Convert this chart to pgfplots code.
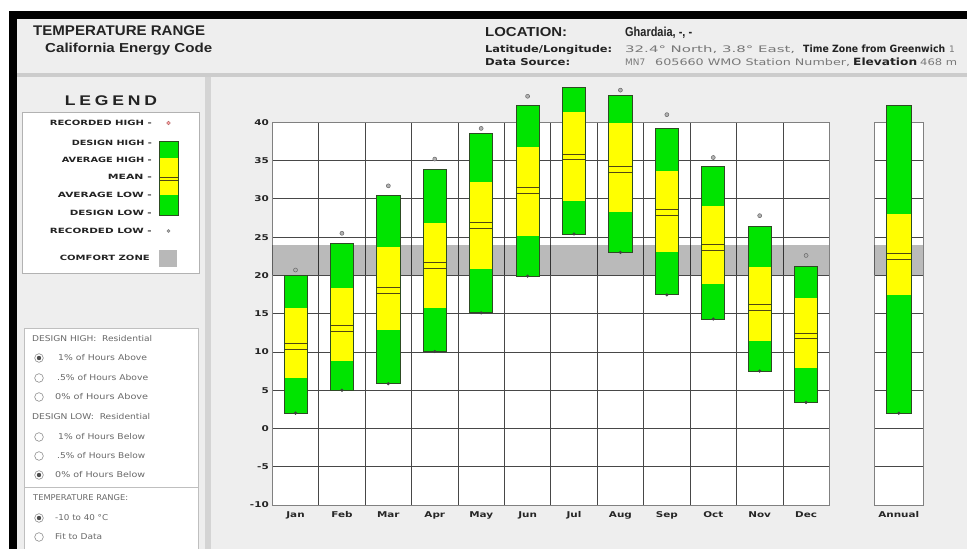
\documentclass[border=0pt]{standalone}
\usepackage{fontspec}
\setmainfont{DejaVu Sans}
\newfontfamily\arialf{Liberation Sans}
\usepackage{graphicx}
\usepackage{pgfplots}
\pgfplotsset{compat=1.18}
\definecolor{cgreen}{RGB}{0,228,0}
\definecolor{cyellow}{RGB}{255,255,0}
\definecolor{cpanel}{RGB}{238,238,238}
\definecolor{coutline}{RGB}{45,75,35}
\definecolor{cmean}{RGB}{80,70,20}
\definecolor{ctitle}{RGB}{35,35,35}
\definecolor{cgt}{RGB}{120,120,120}
\definecolor{cradio}{RGB}{105,105,105}
\newcommand\fw[2]{\resizebox{#1}{\height}{#2}}
\newcommand\fs[1]{\fontsize{#1}{#1}\selectfont}
\newcommand\hs[1]{\scalebox{1.3}[1]{#1}}
% box: x, design low, average low, mean, average high, design high
\newcommand\tbox[6]{%
 \pgfmathsetmacro\xl{#1-0.25}%
 \pgfmathsetmacro\xr{#1+0.25}%
 \pgfmathsetmacro\ma{#4+0.37}%
 \pgfmathsetmacro\mb{#4-0.37}%
 \addplot[draw=none, fill=cgreen] coordinates {(\xl,#2) (\xr,#2) (\xr,#6) (\xl,#6)} -- cycle;
 \addplot[draw=none, fill=cyellow] coordinates {(\xl,#3) (\xr,#3) (\xr,#5) (\xl,#5)} -- cycle;
 \addplot[cmean, line width=0.8pt] coordinates {(\xl,\ma) (\xr,\ma)};
 \addplot[cmean, line width=0.8pt] coordinates {(\xl,\mb) (\xr,\mb)};
 \addplot[coutline, line width=0.8pt] coordinates {(\xl,#2) (\xr,#2) (\xr,#6) (\xl,#6)} -- cycle;
}
\newcommand\rad[2]{\filldraw[fill=white, draw=black!45, line width=0.6pt] (39,#1) circle (4.3pt);
 \ifnum#2=1 \fill[black!70] (39,#1) circle (2.2pt);\fi}
\newcommand\rtext[4]{\node[anchor=west, inner sep=0, text=cradio] at (#1,#2) {\fw{#3}{\fs{8}#4}};}
\newcommand\ltext[3]{\node[anchor=east, inner sep=0, text=ctitle] at (152,#1) {\fw{#2}{\bfseries\fs{7.2}#3}};}
\begin{document}
\begin{tikzpicture}
\path[use as bounding box] (0,0) rectangle (967pt,549pt);
\begin{scope}[x=1pt,y=-1pt,shift={(0pt,549pt)}]
\fill[white] (0,0) rectangle (967,549);
\fill[black] (9,11) rectangle (967,19);
\fill[black] (9,11) rectangle (17,549);
\fill[cpanel] (17,19) rectangle (967,73);
\fill[black!20] (17,73) rectangle (967,77);
\fill[cpanel] (17,77) rectangle (205,549);
\fill[black!17] (205,77) rectangle (211,549);
\fill[cpanel] (211,77) rectangle (967,549);
\fill[white] (272.3,122.3) rectangle (829.3,505);
\fill[white] (874.3,122.3) rectangle (923.3,505);
% header
\node[anchor=base west, inner sep=0, text=ctitle] at (33,36) {\fw{172pt}{\arialf\bfseries\fs{14}TEMPERATURE RANGE}};
\node[anchor=base west, inner sep=0, text=ctitle] at (45,53) {\fw{167pt}{\arialf\bfseries\fs{13}California Energy Code}};
\node[anchor=base west, inner sep=0, text=ctitle] at (485,37) {\fw{82pt}{\arialf\bfseries\fs{13}LOCATION:}};
\node[anchor=base west, inner sep=0, text=ctitle] at (625,37) {\fw{67pt}{\arialf\bfseries\fs{13}Ghardaia, -, -}};
\node[anchor=base west, inner sep=0, text=ctitle] at (485,53) {\fw{127pt}{\bfseries\fs{9.5}Latitude/Longitude:}};
\node[anchor=base west, inner sep=0, text=cgt] at (625,53) {\fw{170pt}{\fs{9}32.4° North, 3.8° East,}};
\node[anchor=base west, inner sep=0, text=ctitle] at (803,53) {\fw{142pt}{\bfseries\fs{10}Time Zone from Greenwich}};
\node[anchor=base west, inner sep=0, text=cgt] at (949,53) {\fs{9}1};
\node[anchor=base west, inner sep=0, text=ctitle] at (485,66) {\fw{85pt}{\bfseries\fs{9.5}Data Source:}};
\node[anchor=base west, inner sep=0, text=cgt] at (625,66) {\fw{20pt}{\fs{9}MN7}};
\node[anchor=base west, inner sep=0, text=cgt] at (655,66) {\fw{195pt}{\fs{9}605660 WMO Station Number,}};
\node[anchor=base west, inner sep=0, text=ctitle] at (853,66) {\fw{64pt}{\bfseries\fs{10}Elevation}};
\node[anchor=base west, inner sep=0, text=cgt] at (920,66) {\fw{37pt}{\fs{9}468 m}};
% legend
\node[anchor=base, inner sep=0, text=ctitle] at (111,106) {\fw{92pt}{\arialf\bfseries\fs{14}L\kern3pt E\kern3pt G\kern3pt E\kern3pt N\kern3pt D}};
\filldraw[fill=white, draw=black!30] (22,112) rectangle (199,273);
\ltext{123}{102pt}{RECORDED HIGH -}
\ltext{143}{80pt}{DESIGN HIGH -}
\ltext{160}{90pt}{AVERAGE HIGH -}
\ltext{177}{44pt}{MEAN -}
\ltext{195}{94pt}{AVERAGE LOW -}
\ltext{213}{82pt}{DESIGN LOW -}
\ltext{231}{102pt}{RECORDED LOW -}
\node[anchor=east, inner sep=0, text=ctitle] at (150,258) {\fw{90pt}{\bfseries\fs{7.2}COMFORT ZONE}};
\fill[cgreen] (159.3,141.7) rectangle (178.3,215);
\fill[cyellow] (159.3,158.3) rectangle (178.3,195);
\draw[cmean, line width=0.7pt] (159.3,177.8) -- (178.3,177.8);
\draw[cmean, line width=0.7pt] (159.3,180.6) -- (178.3,180.6);
\draw[coutline, line width=0.8pt] (159.3,141.7) rectangle (178.3,215);
\filldraw[fill=red!35, draw=red!30!gray, line width=0.4pt] (168.5,123) circle (1.8pt);
\filldraw[fill=gray!60, draw=gray, line width=0.4pt] (168.5,231) circle (1.5pt);
\fill[black!28] (159.3,250) rectangle (177.3,267);
% radio panel
\filldraw[fill=white, draw=black!25] (24,328) rectangle (198,549);
\draw[black!25] (24,487) -- (198,487);
\rtext{32}{339}{120pt}{DESIGN HIGH:\ \ Residential}
\rad{358}{1}\rtext{58}{358}{89pt}{1\% of Hours Above}
\rad{378}{0}\rtext{57}{378}{91pt}{.5\% of Hours Above}
\rad{397}{0}\rtext{55}{397}{93pt}{0\% of Hours Above}
\rtext{32}{417}{118pt}{DESIGN LOW:\ \ Residential}
\rad{437}{0}\rtext{58}{437}{87pt}{1\% of Hours Below}
\rad{456}{0}\rtext{57}{456}{88pt}{.5\% of Hours Below}
\rad{475}{1}\rtext{55}{475}{90pt}{0\% of Hours Below}
\rtext{33}{498}{95pt}{TEMPERATURE RANGE:}
\rad{518}{1}\rtext{55}{518}{53pt}{-10 to 40 °C}
\rad{537}{0}\rtext{55}{537}{47pt}{Fit to Data}
\end{scope}
% ---------------- monthly chart ----------------
\begin{axis}[
  at={(272.3pt,44pt)}, anchor=south west,
  width=557pt, height=382.7pt, scale only axis,
  xmin=0, xmax=12, ymin=-10, ymax=40, clip=false,
  xtick={0.5,1.5,...,11.5},
  xticklabels={\hs{Jan},\hs{Feb},\hs{Mar},\hs{Apr},\hs{May},\hs{Jun},\hs{Jul},\hs{Aug},\hs{Sep},\hs{Oct},\hs{Nov},\hs{Dec}},
  minor xtick={1,...,11},
  ytick={-10,-5,...,40},
  ymajorgrids, xminorgrids,
  major tick length=0pt, minor tick length=0pt,
  major grid style={black!72, line width=0.7pt},
  minor grid style={black!72, line width=0.7pt},
  axis line style={black!50, line width=0.8pt},
  /pgf/number format/assume math mode=true,
  tick label style={font=\bfseries\fs{8}, text=black!85},
  yticklabel={\scalebox{1.3}[1]{\pgfmathprintnumber{\tick}}},
  xticklabel style={yshift=-3pt},
]
\addplot[draw=none, fill=black, fill opacity=0.27] coordinates {(0,20) (12,20) (12,24) (0,24)} -- cycle;
\tbox{0.5}{2.0}{6.6}{10.75}{15.7}{19.95}
\tbox{1.5}{5.0}{8.75}{13.1}{18.4}{24.2}
\tbox{2.5}{5.85}{12.8}{18.0}{23.7}{30.5}
\tbox{3.5}{10.05}{15.7}{21.3}{26.8}{33.8}
\tbox{4.5}{15.1}{20.85}{26.55}{32.2}{38.6}
\tbox{5.5}{19.9}{25.2}{31.1}{36.8}{42.2}
\tbox{6.5}{25.4}{29.7}{35.5}{41.3}{44.6}
\tbox{7.5}{23.0}{28.3}{33.85}{39.9}{43.5}
\tbox{8.5}{17.45}{23.0}{28.2}{33.7}{39.2}
\tbox{9.5}{14.3}{18.9}{23.65}{29.0}{34.3}
\tbox{10.5}{7.5}{11.45}{15.85}{21.15}{26.4}
\tbox{11.5}{3.4}{7.95}{12.1}{17.0}{21.15}
% recorded high
\addplot[only marks, mark=*, mark size=2pt, mark options={fill=black!30, draw=black!60, line width=0.5pt}]
  coordinates {(0.5,20.7) (1.5,25.5) (2.5,31.7) (3.5,35.2) (4.5,39.2) (5.5,43.4) (7.5,44.2) (8.5,41.0) (9.5,35.4) (10.5,27.8) (11.5,22.6)};
% recorded low
\addplot[only marks, mark=*, mark size=1.4pt, mark options={fill=black!75, draw=black!75}]
  coordinates {(0.5,2.0) (1.5,5.0) (2.5,5.85) (3.5,10.05) (4.5,15.1) (5.5,19.9) (6.5,25.4) (7.5,23.0) (8.5,17.45) (9.5,14.3) (10.5,7.5) (11.5,3.4)};
\end{axis}
% ---------------- annual ----------------
\begin{axis}[
  at={(874.3pt,44pt)}, anchor=south west,
  width=49pt, height=382.7pt, scale only axis,
  xmin=0, xmax=1, ymin=-10, ymax=40, clip=false,
  xtick={0.5}, xticklabels={\hs{Annual}},
  ytick={-10,-5,...,40},
  yticklabel style={text opacity=0},
  ymajorgrids,
  major tick length=0pt,
  major grid style={black!72, line width=0.7pt},
  axis line style={black!50, line width=0.8pt},
  tick label style={font=\bfseries\fs{8}, text=black!85},
  xticklabel style={yshift=-3pt},
]
\addplot[draw=none, fill=black, fill opacity=0.27] coordinates {(0,20) (1,20) (1,24) (0,24)} -- cycle;
\tbox{0.5}{2.0}{17.45}{22.5}{28.0}{42.2}
\addplot[only marks, mark=*, mark size=1.4pt, mark options={fill=black!75, draw=black!75}]
  coordinates {(0.5,2.0)};
\end{axis}
\end{tikzpicture}
\end{document}
